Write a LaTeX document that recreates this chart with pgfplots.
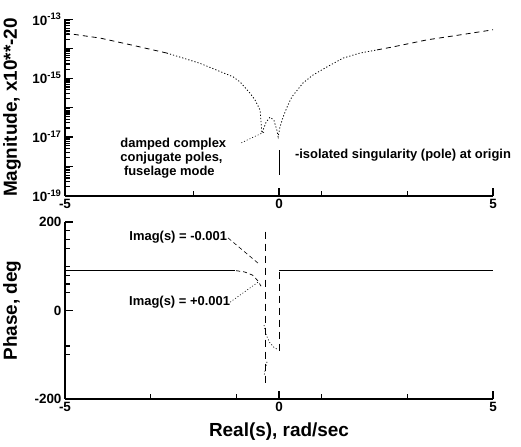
\documentclass[border=0pt]{standalone}
\usepackage{pgfplots}
\pgfplotsset{compat=1.18}
\usepackage{fontspec}
\setmainfont{Liberation Sans}

\begin{document}
\begin{tikzpicture}
\path[use as bounding box] (0,0) rectangle (521bp,447bp);

\pgfplotsset{
  bodestyle/.style={
    scale only axis,
    width=428bp,
    xmin=-5, xmax=5,
    clip=false,
    axis lines*=left,
    axis line style={line width=1.8bp, -},
    tick style={line width=1.2bp, black},
    major tick length=8bp,
    minor tick length=5bp,
    tick align=inside,
    xtick={-5,0,5},
    xticklabels={-5,0,5},
    ticklabel style={font=\fontsize{13.5}{15}\selectfont\bfseries},
    label style={font=\fontsize{19}{21}\selectfont\bfseries},
  },
}

% magnitude
\begin{axis}[
    bodestyle,
    at={(65bp,251.3bp)}, anchor=south west,
    height=176.4bp,
    ymode=log,
    ymin=1e-19, ymax=1e-13,
    ytick={1e-19,1e-18,1e-17,1e-16,1e-15,1e-14,1e-13},
    yticklabels={10\textsuperscript{-19},,10\textsuperscript{-17},,10\textsuperscript{-15},,10\textsuperscript{-13}},
    minor ytick={2e-19,3e-19,4e-19,5e-19,6e-19,7e-19,8e-19,9e-19,
                 2e-18,3e-18,4e-18,5e-18,6e-18,7e-18,8e-18,9e-18,
                 2e-17,3e-17,4e-17,5e-17,6e-17,7e-17,8e-17,9e-17,
                 2e-16,3e-16,4e-16,5e-16,6e-16,7e-16,8e-16,9e-16,
                 2e-15,3e-15,4e-15,5e-15,6e-15,7e-15,8e-15,9e-15,
                 2e-14,3e-14,4e-14,5e-14,6e-14,7e-14,8e-14,9e-14},
    minor xtick={-2,1,3},
    ylabel={Magnitude, x10**-20},
    ylabel style={at={(axis description cs:-0.124,0.5)}, anchor=center},
  ]
  \addplot[black, line width=0.8bp, dash pattern=on 5bp off 4bp] coordinates {
    (-5.00,3.4e-14) (-4.18,2.3e-14) (-3.41,1.3e-14) (-2.62,7.1e-15)
  };
  \addplot[black, line width=0.8bp, dash pattern=on 1.2bp off 2bp] coordinates {
    (-2.62,7.1e-15) (-1.85,3.2e-15) (-1.07,1.1e-15) (-0.91,7.4e-16)
    (-0.68,3.1e-16) (-0.56,1.8e-16) (-0.44,8.1e-17) (-0.40,1.35e-17)
    (-0.30,3.2e-17) (-0.21,4.7e-17) (-0.12,3.7e-17) (-0.05,1.7e-17)
    (-0.02,1.0e-17) (0.02,2.1e-17) (0.09,4.5e-17) (0.19,1.05e-16)
    (0.30,2.3e-16) (0.56,6.8e-16) (0.79,1.26e-15) (1.12,2.4e-15)
    (1.50,4.8e-15) (1.89,7.1e-15) (2.29,9.1e-15)
  };
  \addplot[black, line width=0.8bp, dash pattern=on 5bp off 4bp] coordinates {
    (2.29,9.1e-15) (2.66,1.15e-14) (3.46,2.0e-14) (4.23,2.95e-14) (5.00,4.4e-14)
  };
  \addplot[black, line width=0.8bp] coordinates {(0,3.5e-18) (0,5.0e-19)};
  \draw[black, line width=0.6bp, dash pattern=on 1bp off 2bp]
    (axis cs:-0.88,6.3e-18) -- (axis cs:-0.33,1.5e-17);
  \node[anchor=west, align=left, font=\fontsize{13}{14}\selectfont\bfseries, inner sep=0pt]
    at (axis cs:-3.71,1.9e-18) {damped complex\\conjugate poles,\\\ fuselage mode};
  \node[anchor=west, font=\fontsize{13}{14}\selectfont\bfseries, inner sep=0pt]
    at (axis cs:0.37,2.4e-18) {-isolated singularity (pole) at origin};
\end{axis}

% phase
\begin{axis}[
    bodestyle,
    at={(65bp,48bp)}, anchor=south west,
    height=177bp,
    ymin=-200, ymax=200,
    ytick={-200,0,200},
    yticklabels={-200,0,200},
    minor ytick={180,160,140,100,80,60,40,-80,-100},
    minor xtick={-3,-1,1,3},
    ylabel={Phase, deg},
    ylabel style={at={(axis description cs:-0.124,0.5)}, anchor=center},
    xlabel={Real(s), rad/sec},
    xlabel style={at={(axis description cs:0.5,-0.185)}, anchor=center},
  ]
  \addplot[black, line width=0.8bp] coordinates {(-5,90) (-1.03,90)};
  \addplot[black, line width=0.8bp] coordinates {(0,90) (5,90)};
  \addplot[black, line width=0.7bp, dash pattern=on 4bp off 3bp] coordinates {
    (-1.00,90) (-0.80,87) (-0.62,80) (-0.50,68) (-0.42,55)
  };
  \addplot[black, line width=0.7bp, dash pattern=on 7bp off 5bp] coordinates {
    (-0.33,178) (-0.33,-168)
  };
  \addplot[black, line width=0.7bp, dash pattern=on 7bp off 5bp] coordinates {
    (0,88) (0,-93)
  };
  \addplot[black, line width=0.7bp, dash pattern=on 1bp off 2bp] coordinates {
    (-0.35,-33) (-0.30,-55) (-0.22,-72) (-0.12,-83) (-0.02,-89)
  };
  \addplot[black, line width=0.7bp, dash pattern=on 1bp off 2bp] coordinates {
    (-0.28,-116) (-0.32,-132) (-0.35,-148)
  };
  \draw[black, line width=0.6bp, dash pattern=on 4bp off 3bp]
    (axis cs:-1.19,164) -- (axis cs:-0.49,107);
  \draw[black, line width=0.6bp, dash pattern=on 1bp off 2bp]
    (axis cs:-1.14,19) -- (axis cs:-0.49,64);
  \node[anchor=east, font=\fontsize{13}{14}\selectfont\bfseries, inner sep=0pt]
    at (axis cs:-1.21,166) {Imag(s) = -0.001};
  \node[anchor=east, font=\fontsize{13}{14}\selectfont\bfseries, inner sep=0pt]
    at (axis cs:-1.14,19) {Imag(s) = +0.001};
\end{axis}
\end{tikzpicture}
\end{document}
